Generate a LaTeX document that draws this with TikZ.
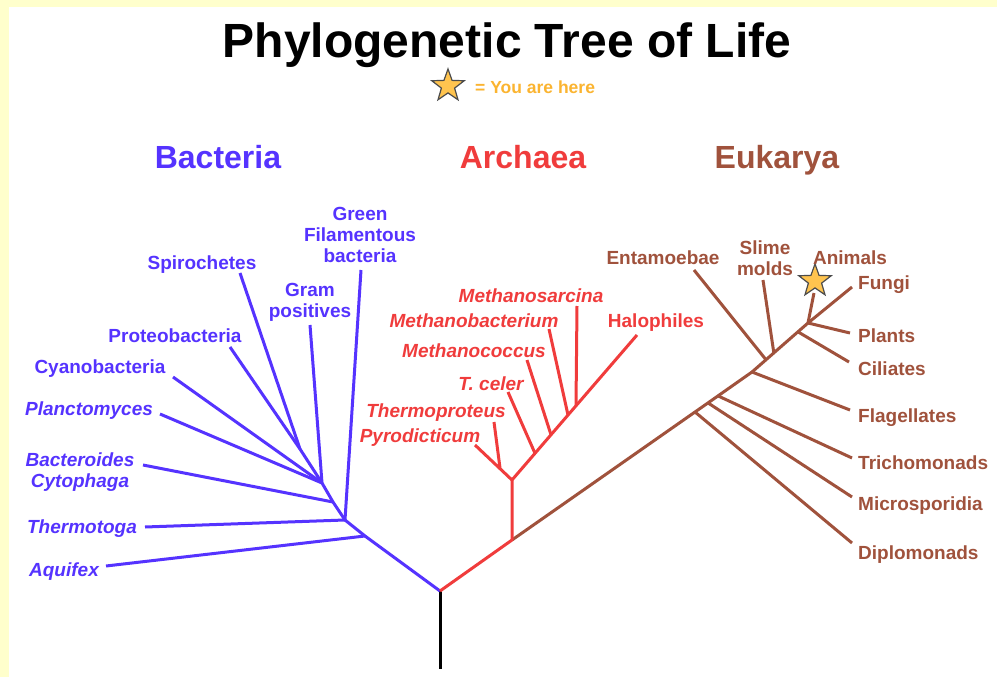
\documentclass[tikz,border=0pt]{standalone}
\usepackage{fontspec}
\setmainfont{Liberation Sans}
\usetikzlibrary{shapes.geometric,calc}
\definecolor{bgyellow}{HTML}{FFFFCC}
\definecolor{bact}{HTML}{5533FF}
\definecolor{arch}{HTML}{F03C3C}
\definecolor{euk}{HTML}{A0523C}
\definecolor{staryellow}{HTML}{FFC44F}
\definecolor{legendorange}{HTML}{FBB430}
\begin{document}
\begin{tikzpicture}[x=1pt,y=-1pt,
  lbl/.style={inner sep=0pt,font=\fontsize{19}{21}\selectfont\bfseries},
  ilbl/.style={inner sep=0pt,font=\fontsize{19}{21}\selectfont\bfseries\itshape},
  hdr/.style={inner sep=0pt,font=\fontsize{32}{36}\selectfont\bfseries},
  branch/.style={line width=3pt,line join=round},
  youstar/.style={star,star points=5,star point ratio=2.45,minimum size=34pt,inner sep=0pt,fill=staryellow,draw=black!70,line width=1.2pt}]
\fill[bgyellow] (0,0) rectangle (997,677);
\fill[white] (9,7) rectangle (997,677);
\useasboundingbox (0,0) rectangle (997,677);

% title and legend
\node[inner sep=0pt,anchor=base,font=\fontsize{48}{52}\selectfont\bfseries] (title) at (507,58) {Phylogenetic Tree of Life};
\node[youstar] (legstar) at (448,86) {};
\node[inner sep=0pt,anchor=base west,text=legendorange,font=\fontsize{17.5}{20}\selectfont\bfseries] (legtext) at (475,93) {= You are here};

% headers
\node[hdr,anchor=base,text=bact] (hbact) at (218,168) {Bacteria};
\node[hdr,anchor=base,text=arch] (harch) at (523,168) {Archaea};
\node[hdr,anchor=base,text=euk] (heuk) at (777,168) {Eukarya};

% coordinates
\coordinate (root) at (440,669);
\coordinate (R) at (440,591);
% bacteria
\coordinate (B1) at (365,536);
\coordinate (B2) at (345,520);
\coordinate (B3) at (333,502);
\coordinate (B4) at (322,483);
\coordinate (B5) at (300,449);
\coordinate (aqE) at (106,566);
\coordinate (thE) at (145,527);
\coordinate (baE) at (143,465);
\coordinate (plE) at (160,414);
\coordinate (cyE) at (173,377);
\coordinate (grE) at (310,325);
\coordinate (prE) at (230,347);
\coordinate (spE) at (240,273);
\coordinate (gfE) at (361,270);
% archaea
\coordinate (A1) at (512,540);
\coordinate (A2) at (512,480);
\coordinate (haE) at (637,335);
\coordinate (P0) at (500,468);
\coordinate (pyE) at (475,445);
\coordinate (tpE) at (494,422);
\coordinate (tcN) at ($(A2)!0.184!(haE)$);
\coordinate (mcN) at ($(A2)!0.312!(haE)$);
\coordinate (mbN) at ($(A2)!0.448!(haE)$);
\coordinate (msN) at ($(A2)!0.512!(haE)$);
\coordinate (tcE) at (508,392);
\coordinate (mcE) at (527,360);
\coordinate (mbE) at (549,329);
\coordinate (msE) at (577,306);
% eukarya
\coordinate (E1) at (695,412);
\coordinate (E2) at (708,402.9);
\coordinate (E3) at (718,395.9);
\coordinate (E4) at (752,372);
\coordinate (E8) at (808,323);
\coordinate (E5) at ($(E4)!0.25!(E8)$);
\coordinate (E6) at ($(E4)!0.39!(E8)$);
\coordinate (E7) at ($(E4)!0.82!(E8)$);
\coordinate (fuE) at (852,287);
\coordinate (dipE) at (852,543);
\coordinate (micE) at (852,497);
\coordinate (triE) at (852,458);
\coordinate (flaE) at (850,410);
\coordinate (entE) at (694,270);
\coordinate (slE) at (763,280);
\coordinate (ciE) at (849,362);
\coordinate (plaE) at (850,333);
\coordinate (anE) at (814,293);

% branches
\draw[branch,black] (R) -- (root);
\draw[branch,bact] (R) -- (B1) -- (B2) -- (B3) -- (B4) -- (B5);
\draw[branch,bact] (B1) -- (aqE);
\draw[branch,bact] (B2) -- (thE);
\draw[branch,bact] (B2) -- (gfE);
\draw[branch,bact] (B3) -- (baE);
\draw[branch,bact] (B4) -- (plE);
\draw[branch,bact] (B4) -- (cyE);
\draw[branch,bact] (B4) -- (grE);
\draw[branch,bact] (B5) -- (prE);
\draw[branch,bact] (B5) -- (spE);

\draw[branch,euk] (A1) -- (E1) -- (E2) -- (E3) -- (E4) -- (E8) -- (fuE);
\draw[branch,euk] (E1) -- (dipE);
\draw[branch,euk] (E2) -- (micE);
\draw[branch,euk] (E3) -- (triE);
\draw[branch,euk] (E4) -- (flaE);
\draw[branch,euk] (E5) -- (entE);
\draw[branch,euk] (E6) -- (slE);
\draw[branch,euk] (E7) -- (ciE);
\draw[branch,euk] (E8) -- (plaE);
\draw[branch,euk] (E8) -- (anE);

\draw[branch,arch] (R) -- (A1) -- (A2) -- (haE);
\draw[branch,arch] (A2) -- (pyE);
\draw[branch,arch] (P0) -- (tpE);
\draw[branch,arch] (tcN) -- (tcE);
\draw[branch,arch] (mcN) -- (mcE);
\draw[branch,arch] (mbN) -- (mbE);
\draw[branch,arch] (msN) -- (msE);

\node[youstar] (anstar) at (815,281) {};

% bacteria labels
\node[lbl,text=bact,anchor=north,align=center] (gf) at (360,207) {Green\\Filamentous\\bacteria};
\node[lbl,text=bact,anchor=base] (sp) at (202,269) {Spirochetes};
\node[lbl,text=bact,anchor=north,align=center] (gr) at (310,283) {Gram\\positives};
\node[lbl,text=bact,anchor=base] (pr) at (175,342) {Proteobacteria};
\node[lbl,text=bact,anchor=base] (cy) at (100,373) {Cyanobacteria};
\node[ilbl,text=bact,anchor=base] (pl) at (89,415) {Planctomyces};
\node[ilbl,text=bact,anchor=north,align=center] (ba) at (80,453) {Bacteroides\\Cytophaga};
\node[ilbl,text=bact,anchor=base] (th) at (82,533) {Thermotoga};
\node[ilbl,text=bact,anchor=base] (aq) at (64,576) {Aquifex};

% archaea labels
\node[ilbl,text=arch,anchor=base] (ms) at (531,302) {Methanosarcina};
\node[ilbl,text=arch,anchor=base] (mb) at (474,327) {Methanobacterium};
\node[ilbl,text=arch,anchor=base] (mc) at (474,357) {Methanococcus};
\node[ilbl,text=arch,anchor=base] (tc) at (491,390) {T. celer};
\node[ilbl,text=arch,anchor=base] (tp) at (436,417) {Thermoproteus};
\node[ilbl,text=arch,anchor=base] (py) at (420,442) {Pyrodicticum};
\node[lbl,text=arch,anchor=base] (ha) at (656,327) {Halophiles};

% eukarya labels
\node[lbl,text=euk,anchor=base] (en) at (663,264) {Entamoebae};
\node[lbl,text=euk,anchor=north,align=center] (sl) at (765,241) {Slime\\molds};
\node[lbl,text=euk,anchor=base] (an) at (850,264) {Animals};
\node[lbl,text=euk,anchor=base west] (fu) at (858,289) {Fungi};
\node[lbl,text=euk,anchor=base west] (pla) at (858,342) {Plants};
\node[lbl,text=euk,anchor=base west] (ci) at (858,375) {Ciliates};
\node[lbl,text=euk,anchor=base west] (fla) at (858,422) {Flagellates};
\node[lbl,text=euk,anchor=base west] (tri) at (858,469) {Trichomonads};
\node[lbl,text=euk,anchor=base west] (mic) at (858,510) {Microsporidia};
\node[lbl,text=euk,anchor=base west] (dip) at (858,559) {Diplomonads};
\end{tikzpicture}
\end{document}
